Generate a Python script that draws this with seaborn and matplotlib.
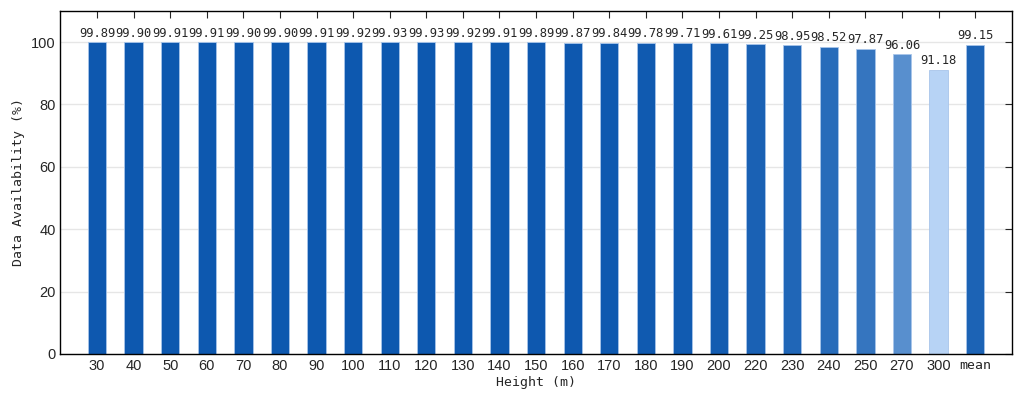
import numpy as np
import pandas as pd
import matplotlib
import matplotlib.pyplot as plt
import seaborn as sns
from matplotlib.colors import LinearSegmentedColormap, Normalize

# Data availability per measurement height
heights = ['30', '40', '50', '60', '70', '80', '90', '100', '110', '120',
           '130', '140', '150', '160', '170', '180', '190', '200', '220',
           '230', '240', '250', '270', '300', 'mean']
availability = [99.89, 99.90, 99.91, 99.91, 99.90, 99.90, 99.91, 99.92,
                99.93, 99.93, 99.92, 99.91, 99.89, 99.87, 99.84, 99.78,
                99.71, 99.61, 99.25, 98.95, 98.52, 97.87, 96.06, 91.18,
                99.15]

df = pd.DataFrame({'Height': heights, 'Availability': availability})

# colour each bar by its value, light blue -> dark blue
cmap = LinearSegmentedColormap.from_list('avail', ['#b7d3f5', '#0d58af'])
norm = Normalize(vmin=min(availability), vmax=max(availability))
colors = [cmap(norm(v)) for v in availability]

sns.set_style('white')
mono = 'DejaVu Sans Mono'

fig, ax = plt.subplots(figsize=(10.24, 4.05), dpi=100)
sns.barplot(data=df, x='Height', y='Availability', hue='Height',
            palette=colors, legend=False, width=0.5, saturation=1,
            edgecolor='#a8c5ea', linewidth=0.6, ax=ax)

for i, v in enumerate(availability):
    ax.text(i, v + 0.9, f'{v:.2f}', ha='center', va='bottom',
            fontsize=8.7, family=mono)

ax.set_xlim(-1, len(heights))
ax.set_ylim(0, 110)
ax.set_yticks(np.arange(0, 101, 20))
ax.yaxis.grid(True, color='#e6e6e6', linewidth=1)
ax.set_axisbelow(True)

ax.tick_params(direction='in', top=True, right=True, length=5,
               labelsize=10.5)
for lab in ax.get_xticklabels() + ax.get_yticklabels():
    lab.set_family('Liberation Sans')
ax.get_xticklabels()[-1].set_family(mono)
ax.get_xticklabels()[-1].set_fontsize(9.5)
for s in ax.spines.values():
    s.set_color('black')
    s.set_linewidth(1)

ax.set_xlabel('Height (m)', fontsize=9.5, family=mono, labelpad=2)
ax.set_ylabel('Data Availability (%)', fontsize=9.5, family=mono, labelpad=4)

plt.subplots_adjust(left=0.059, right=0.988, top=0.973, bottom=0.126)
plt.savefig('out.png', dpi=100)
plt.close()
